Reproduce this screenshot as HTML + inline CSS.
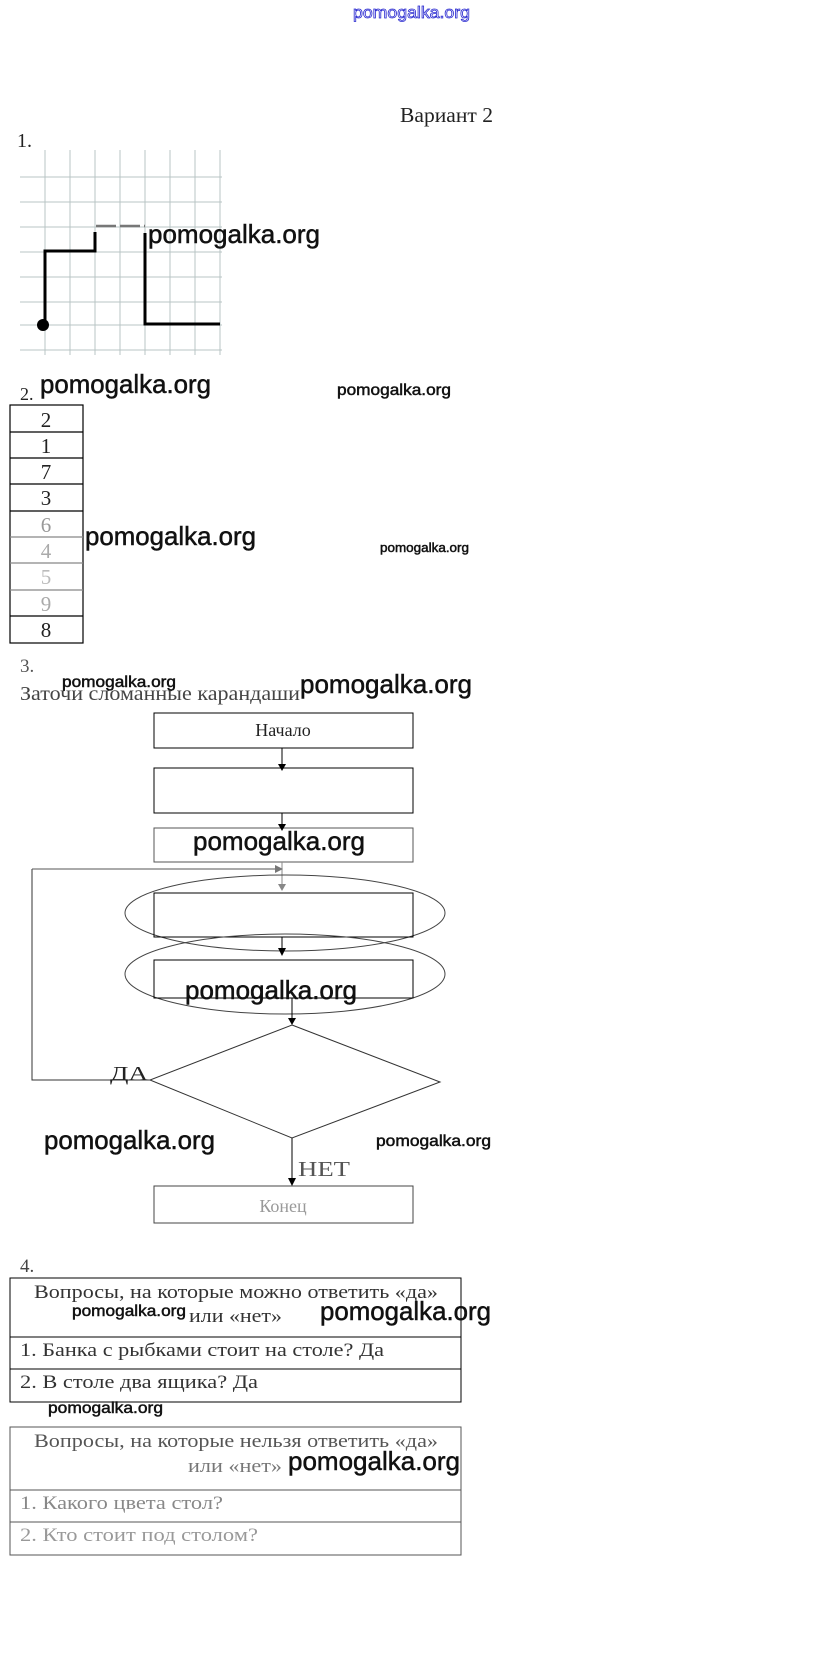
<!DOCTYPE html>
<html><head><meta charset="utf-8"><style>
html,body{margin:0;padding:0;background:#fff}
svg{display:block}
.s{font-family:"Liberation Serif","Noto Serif CJK SC",serif;fill:#222}
.w{font-family:"Liberation Sans","DejaVu Sans",sans-serif;fill:#111;stroke:#111;stroke-width:0.5}
</style></head><body>
<svg width="823" height="1673" viewBox="0 0 823 1673" xmlns="http://www.w3.org/2000/svg">
<text x="353" y="18" class="w" font-size="17" textLength="117" lengthAdjust="spacingAndGlyphs" style="fill:#fff;stroke:#2a2ad0;stroke-width:0.8">pomogalka.org</text>
<text x="400" y="122" class="s" font-size="21" textLength="93" lengthAdjust="spacingAndGlyphs">Вариант 2</text>
<text x="17" y="147" class="s" font-size="20">1.</text>
<g stroke="#b8c4c4" stroke-width="1">
<line x1="20" y1="177" x2="222" y2="177"/><line x1="20" y1="202" x2="222" y2="202"/><line x1="20" y1="227" x2="222" y2="227"/><line x1="20" y1="252" x2="222" y2="252"/><line x1="20" y1="277" x2="222" y2="277"/><line x1="20" y1="302" x2="222" y2="302"/><line x1="20" y1="325" x2="222" y2="325"/><line x1="20" y1="350" x2="222" y2="350"/>
<line x1="45" y1="150" x2="45" y2="355"/><line x1="70" y1="150" x2="70" y2="355"/><line x1="95" y1="150" x2="95" y2="355"/><line x1="120" y1="150" x2="120" y2="355"/><line x1="145" y1="150" x2="145" y2="355"/><line x1="170" y1="150" x2="170" y2="355"/><line x1="195" y1="150" x2="195" y2="355"/><line x1="220" y1="150" x2="220" y2="355"/>
</g>
<polyline points="45,325 45,251 95,251 95,232" fill="none" stroke="#000" stroke-width="3"/>
<line x1="96" y1="226" x2="145" y2="226" stroke="#777" stroke-width="2.5" stroke-dasharray="20,4"/>
<polyline points="145,233 145,324 220,324" fill="none" stroke="#000" stroke-width="3"/>
<circle cx="43" cy="325" r="6" fill="#000"/>
<text x="148" y="243" class="w" font-size="26" textLength="172" lengthAdjust="spacingAndGlyphs">pomogalka.org</text>
<text x="20" y="400" class="s" font-size="18">2.</text>
<text x="40" y="393" class="w" font-size="26" textLength="171" lengthAdjust="spacingAndGlyphs">pomogalka.org</text>
<text x="337" y="395" class="w" font-size="16" textLength="114" lengthAdjust="spacingAndGlyphs">pomogalka.org</text>
<g stroke="#000" stroke-width="1.2" fill="none">
<rect x="10" y="405" width="73" height="238"/>
<line x1="10" y1="432" x2="83" y2="432"/><line x1="10" y1="458" x2="83" y2="458"/><line x1="10" y1="484" x2="83" y2="484"/><line x1="10" y1="511" x2="83" y2="511"/><line x1="10" y1="537" x2="83" y2="537" stroke="#888"/><line x1="10" y1="563" x2="83" y2="563" stroke="#888"/><line x1="10" y1="590" x2="83" y2="590" stroke="#888"/><line x1="10" y1="616" x2="83" y2="616"/>
</g>
<g class="s" font-size="21" text-anchor="middle">
<text x="46" y="427">2</text><text x="46" y="453">1</text><text x="46" y="479">7</text><text x="46" y="505">3</text>
<text x="46" y="532" style="fill:#999">6</text><text x="46" y="558" style="fill:#aaa">4</text><text x="46" y="584" style="fill:#bbb">5</text><text x="46" y="611" style="fill:#aaa">9</text><text x="46" y="637">8</text>
</g>
<text x="85" y="545" class="w" font-size="26" textLength="171" lengthAdjust="spacingAndGlyphs">pomogalka.org</text>
<text x="380" y="552" class="w" font-size="13" textLength="89" lengthAdjust="spacingAndGlyphs">pomogalka.org</text>
<text x="20" y="672" class="s" font-size="19" style="fill:#555">3.</text>
<text x="20" y="700" class="s" font-size="20" textLength="280" lengthAdjust="spacingAndGlyphs" style="fill:#444">Заточи сломанные карандаши</text>
<text x="62" y="687" class="w" font-size="16" textLength="114" lengthAdjust="spacingAndGlyphs">pomogalka.org</text>
<text x="300" y="693" class="w" font-size="26" textLength="172" lengthAdjust="spacingAndGlyphs">pomogalka.org</text>
<g stroke="#000" stroke-width="1" fill="none">
<rect x="154" y="713" width="259" height="35"/>
<rect x="154" y="768" width="259" height="45"/>
<rect x="154" y="828" width="259" height="34" stroke="#555"/>
<line x1="282" y1="748" x2="282" y2="764"/>
<line x1="282" y1="813" x2="282" y2="824"/>
<polyline points="32,869 32,1080 150,1080" stroke="#333"/>
<line x1="32" y1="869" x2="275" y2="869" stroke="#555"/>
<line x1="282" y1="862" x2="282" y2="888" stroke="#888"/>
<ellipse cx="285" cy="913" rx="160" ry="38" stroke="#444"/>
<rect x="154" y="893" width="259" height="44"/>
<line x1="282" y1="937" x2="282" y2="949"/>
<ellipse cx="285" cy="974" rx="160" ry="40" stroke="#444"/>
<rect x="154" y="960" width="259" height="38"/>
<line x1="292" y1="998" x2="292" y2="1020"/>
<polygon points="292,1025 440,1082 292,1138 150,1080" stroke="#333"/>
<line x1="292" y1="1138" x2="292" y2="1178"/>
<rect x="154" y="1186" width="259" height="37" stroke="#444"/>
</g>
<g fill="#000">
<polygon points="278,764 286,764 282,771"/>
<polygon points="278,824 286,824 282,831"/>
<polygon points="275,865 283,869 275,873" fill="#777"/>
<polygon points="278,884 286,884 282,891" fill="#888"/>
<polygon points="278,948 286,948 282,956"/>
<polygon points="288,1018 296,1018 292,1025"/>
<polygon points="288,1178 296,1178 292,1186"/>
</g>
<text x="283" y="736" class="s" font-size="18" text-anchor="middle">Начало</text>
<text x="193" y="850" class="w" font-size="26" textLength="172" lengthAdjust="spacingAndGlyphs">pomogalka.org</text>
<text x="185" y="999" class="w" font-size="26" textLength="172" lengthAdjust="spacingAndGlyphs">pomogalka.org</text>
<text x="110" y="1080" class="s" font-size="20" textLength="38" lengthAdjust="spacingAndGlyphs">ДА</text>
<text x="44" y="1149" class="w" font-size="26" textLength="171" lengthAdjust="spacingAndGlyphs">pomogalka.org</text>
<text x="376" y="1146" class="w" font-size="16" textLength="115" lengthAdjust="spacingAndGlyphs">pomogalka.org</text>
<text x="298" y="1176" class="s" font-size="21" textLength="52" lengthAdjust="spacingAndGlyphs" style="fill:#555">НЕТ</text>
<text x="283" y="1212" class="s" font-size="18" text-anchor="middle" style="fill:#999">Конец</text>
<text x="20" y="1272" class="s" font-size="19" style="fill:#444">4.</text>
<g stroke="#000" stroke-width="1" fill="none">
<rect x="10" y="1278" width="451" height="124"/>
<line x1="10" y1="1337" x2="461" y2="1337"/>
<line x1="10" y1="1369" x2="461" y2="1369"/>
<rect x="10" y="1427" width="451" height="128" stroke="#555"/>
<line x1="10" y1="1490" x2="461" y2="1490" stroke="#555"/>
<line x1="10" y1="1522" x2="461" y2="1522" stroke="#555"/>
</g>
<text x="236" y="1298" class="s" font-size="19" text-anchor="middle" textLength="404" lengthAdjust="spacingAndGlyphs" style="fill:#333">Вопросы, на которые можно ответить «да»</text>
<text x="189" y="1322" class="s" font-size="19" textLength="93" lengthAdjust="spacingAndGlyphs" style="fill:#333">или «нет»</text>
<text x="72" y="1316" class="w" font-size="16" textLength="114" lengthAdjust="spacingAndGlyphs">pomogalka.org</text>
<text x="320" y="1320" class="w" font-size="26" textLength="171" lengthAdjust="spacingAndGlyphs">pomogalka.org</text>
<text x="20" y="1356" class="s" font-size="19" textLength="364" lengthAdjust="spacingAndGlyphs" style="fill:#333">1.  Банка с рыбками стоит на столе? Да</text>
<text x="20" y="1388" class="s" font-size="19" textLength="238" lengthAdjust="spacingAndGlyphs" style="fill:#333">2.  В столе два ящика? Да</text>
<text x="48" y="1413" class="w" font-size="16" textLength="115" lengthAdjust="spacingAndGlyphs">pomogalka.org</text>
<text x="236" y="1447" class="s" font-size="19" text-anchor="middle" textLength="404" lengthAdjust="spacingAndGlyphs" style="fill:#555">Вопросы, на которые нельзя ответить «да»</text>
<text x="188" y="1472" class="s" font-size="19" textLength="94" lengthAdjust="spacingAndGlyphs" style="fill:#777">или «нет»</text>
<text x="288" y="1470" class="w" font-size="26" textLength="172" lengthAdjust="spacingAndGlyphs">pomogalka.org</text>
<text x="20" y="1509" class="s" font-size="19" textLength="203" lengthAdjust="spacingAndGlyphs" style="fill:#888">1.  Какого цвета стол?</text>
<text x="20" y="1541" class="s" font-size="19" textLength="238" lengthAdjust="spacingAndGlyphs" style="fill:#999">2.  Кто стоит под столом?</text>
</svg>
</body></html>
